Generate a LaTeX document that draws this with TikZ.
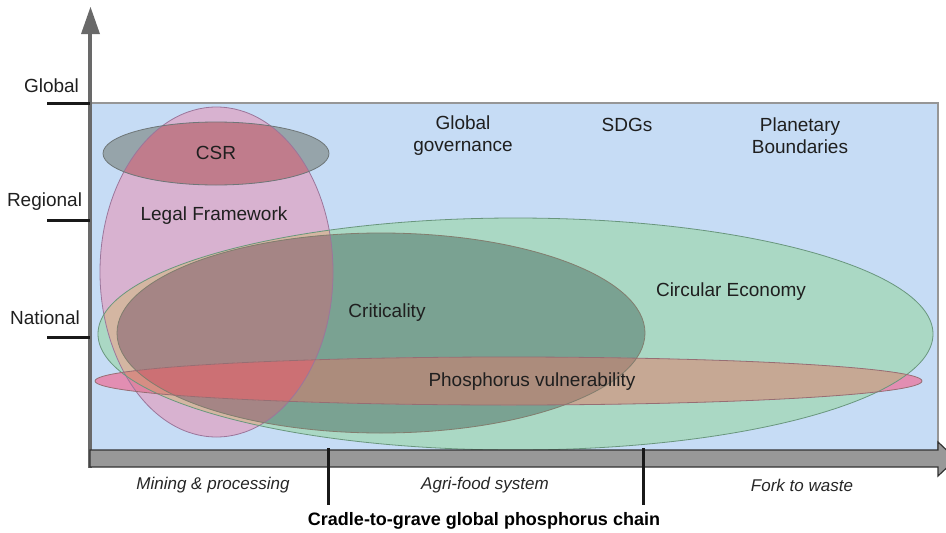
\documentclass[tikz,border=0pt]{standalone}
\usepackage{fontspec}
\setmainfont{Liberation Sans}
% region colours of the overlapping concept areas
\definecolor{bgblue}{RGB}{198,220,245}
\definecolor{frameline}{RGB}{150,150,150}
\definecolor{pinkonly}{RGB}{216,178,208}
\definecolor{greenonly}{RGB}{170,216,196}
\definecolor{pinkgreen}{RGB}{212,182,162}
\definecolor{critgreen}{RGB}{122,162,146}
\definecolor{critpink}{RGB}{165,133,133}
\definecolor{phosonly}{RGB}{226,142,178}
\definecolor{phosgreen}{RGB}{198,168,148}
\definecolor{phoscrit}{RGB}{172,140,124}
\definecolor{phoscritpink}{RGB}{204,112,116}
\definecolor{phospink}{RGB}{222,132,162}
\definecolor{phospinkgreen}{RGB}{214,142,132}
\definecolor{csrgray}{RGB}{150,164,170}
\definecolor{csrrose}{RGB}{192,124,140}
% outlines
\definecolor{legalline}{RGB}{155,118,155}
\definecolor{csrline}{RGB}{110,118,120}
\definecolor{circline}{RGB}{105,150,125}
\definecolor{critline}{RGB}{130,125,110}
\definecolor{phosline}{RGB}{150,110,115}
\definecolor{axisgray}{RGB}{105,105,105}
\definecolor{bargray}{RGB}{152,152,152}
\begin{document}
\begin{tikzpicture}[x=1pt,y=-1pt,
  lbl/.style={font=\fontsize{19}{22}\selectfont, text=black!88, inner sep=0pt, align=center},
  stage/.style={font=\fontsize{17}{20}\selectfont\itshape, text=black!85, inner sep=0pt},
  chain/.style={font=\fontsize{18}{21}\selectfont\bfseries, text=black, inner sep=0pt},
  ticker/.style={line width=3pt, black!90},
  blob/.style={line width=0.8pt},
  legal/.style={insert path={(216.5,272) ellipse [x radius=116.5, y radius=165]}},
  csr/.style={insert path={(216,153.5) ellipse [x radius=113, y radius=31.5]}},
  circ/.style={insert path={(515.5,334) ellipse [x radius=417.5, y radius=116]}},
  crit/.style={insert path={(381,333) ellipse [x radius=264, y radius=100]}},
  phos/.style={insert path={(508.5,381) ellipse [x radius=413.5, y radius=24]}}]
\useasboundingbox (0,0) rectangle (946,533);
\clip (0,0) rectangle (946,533);

% scale background
\fill[bgblue] (92,103) rectangle (938,450);
\draw[frameline, line width=1.5pt] (92,103) -- (938,103) -- (938,450);

% Legal framework and Circular economy
\fill[pinkonly, legal];
\fill[greenonly, circ];
\begin{scope} \clip[legal]; \fill[pinkgreen, circ]; \end{scope}

% Criticality
\fill[critgreen, crit];
\begin{scope} \clip[legal]; \fill[critpink, crit]; \end{scope}

% Phosphorus vulnerability
\fill[phosonly, phos];
\begin{scope} \clip[legal]; \fill[phospink, phos]; \end{scope}
\begin{scope} \clip[circ]; \fill[phosgreen, phos]; \end{scope}
\begin{scope} \clip[circ]; \clip[legal]; \fill[phospinkgreen, phos]; \end{scope}
\begin{scope} \clip[crit]; \fill[phoscrit, phos]; \end{scope}
\begin{scope} \clip[crit]; \clip[legal]; \fill[phoscritpink, phos]; \end{scope}

% CSR
\fill[csrgray, csr];
\begin{scope} \clip[legal]; \fill[csrrose, csr]; \end{scope}

% outlines
\draw[blob, legalline, legal];
\draw[blob, csrline, csr];
\draw[blob, circline, circ];
\draw[blob, critline, crit];
\draw[blob, phosline, phos];

% vertical axis (scale)
\coordinate (ybase) at (90,468);
\coordinate (ytop) at (90,30);
\draw[axisgray, line width=4pt] (ybase) -- (ytop);
\fill[axisgray] (81,34) -- (90.5,7) -- (100,34) -- cycle;

% horizontal block arrow (chain)
\draw[fill=bargray, draw=black!80, line width=1.2pt, line join=miter]
  (90,450) -- (938,450) -- (938,442) -- (956,459) -- (938,476) -- (938,467) -- (90,467) -- cycle;

% scale ticks
\coordinate (gA) at (47,103);  \coordinate (gB) at (90,103);
\coordinate (rA) at (47,220);  \coordinate (rB) at (90,220);
\coordinate (nA) at (47,337);  \coordinate (nB) at (90,337);
\draw[ticker] (gA) -- (gB);
\draw[ticker] (rA) -- (rB);
\draw[ticker] (nA) -- (nB);

% chain stage separators
\coordinate (s1a) at (328,448); \coordinate (s1b) at (328,505);
\coordinate (s2a) at (643,448); \coordinate (s2b) at (643,505);
\draw[ticker] (s1a) -- (s1b);
\draw[ticker] (s2a) -- (s2b);

% scale labels
\node[lbl] (global)   at (51.5,86)  {Global};
\node[lbl] (regional) at (44.5,202) {Regional};
\node[lbl] (national) at (45,318)   {National};

% concept labels
\node[lbl] (csrlbl)   at (216,153)  {CSR};
\node[lbl] (legallbl) at (214,216)  {Legal Framework};
\node[lbl] (gov)      at (463,136)  {Global\\governance};
\node[lbl] (sdg)      at (627,125)  {SDGs};
\node[lbl] (pb)       at (800,136)  {Planetary\\Boundaries};
\node[lbl] (critlbl)  at (387,313)  {Criticality};
\node[lbl] (circlbl)  at (731,292)  {Circular Economy};
\node[lbl] (phoslbl)  at (532,382)  {Phosphorus vulnerability};

% chain stage labels
\node[stage] (mining) at (213,485) {Mining \& processing};
\node[stage] (agri)   at (485,485) {Agri-food system};
\node[stage] (fork)   at (802,485) {Fork to waste};
\node[chain] (title)  at (484,521) {Cradle-to-grave global phosphorus chain};
\end{tikzpicture}
\end{document}
